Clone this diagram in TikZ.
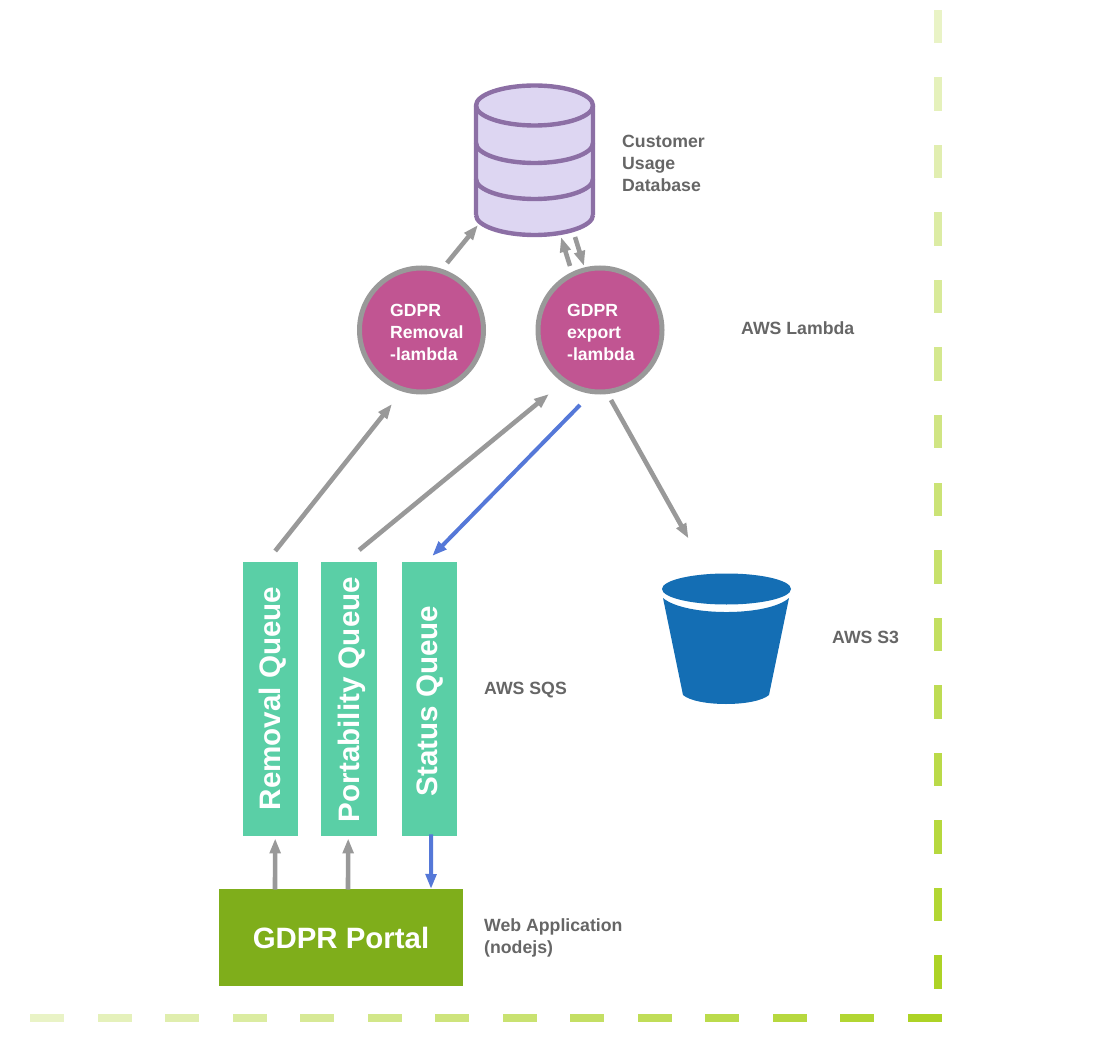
\documentclass[tikz,border=0pt]{standalone}
\usepackage{fontspec}
\setmainfont{Liberation Sans}
\usetikzlibrary{arrows.meta}
\definecolor{txtgray}{HTML}{666666}
\definecolor{linegray}{HTML}{999999}
\definecolor{blueline}{HTML}{5578D8}
\definecolor{lam}{HTML}{C15592}
\definecolor{queue}{HTML}{5ACFA6}
\definecolor{portal}{HTML}{7FAE1B}
\definecolor{bucket}{HTML}{146EB4}
\definecolor{dbfill}{HTML}{DDD6F2}
\definecolor{dbline}{HTML}{8C6FA5}
\definecolor{dashpale}{HTML}{E9F3C6}
\definecolor{dashlime}{HTML}{ADD326}
\tikzset{
  x=1pt,y=-1pt,
  garrow/.style={draw=linegray,line width=4.6pt,-{Triangle[length=15pt,width=10.5pt]}},
  barrow/.style={draw=blueline,line width=4pt,-{Triangle[length=15pt,width=10.5pt]}},
  lambdanode/.style={circle,draw=linegray,fill=lam,line width=5pt,minimum size=124pt,inner sep=0pt},
  lambdatext/.style={anchor=west,align=left,text=white,font=\bfseries\fontsize{17.6}{22.4}\selectfont,inner sep=0pt},
  queuenode/.style={fill=queue,minimum height=274pt,inner sep=0pt,anchor=north west},
  queuetext/.style={text=white,rotate=90,font=\bfseries\fontsize{29.6}{32}\selectfont,inner sep=0pt},
  labeltext/.style={anchor=west,align=left,text=txtgray,font=\bfseries\fontsize{17.7}{22.4}\selectfont,inner sep=0pt},
  dbstroke/.style={draw=dbline,line width=4.4pt},
}
\newcommand{\dbcurve}[1]{(476,#1) .. controls (476,#1+11) and (502.7,#1+20) .. (534.5,#1+20) .. controls (566.3,#1+20) and (593,#1+11) .. (593,#1)}
\begin{document}
\begin{tikzpicture}
\useasboundingbox (0,0) rectangle (1098,1064);
% dashed frame
\foreach \i in {0,...,14}{
  \pgfmathtruncatemacro{\p}{\i*100/14}
  \fill[dashlime!\p!dashpale] (934,{10+67.5*\i}) rectangle (942,{10+67.5*\i+33.5});
}
\foreach \i in {0,...,13}{
  \pgfmathtruncatemacro{\p}{\i*100/13}
  \fill[dashlime!\p!dashpale] ({30+67.5*\i},1014) rectangle ({30+67.5*\i+34},1022);
}
% database
\node[inner sep=0pt,minimum width=119pt,minimum height=150pt] (db) at (534.5,160) {};
\fill[dbfill] (476,105.5) .. controls (476,94.5) and (502.7,85.5) .. (534.5,85.5)
  .. controls (566.3,85.5) and (593,94.5) .. (593,105.5) -- (593,215)
  .. controls (593,226) and (566.3,235) .. (534.5,235)
  .. controls (502.7,235) and (476,226) .. (476,215) -- cycle;
\draw[dbstroke,line join=round] (476,215) -- (476,105.5) .. controls (476,94.5) and (502.7,85.5) .. (534.5,85.5)
  .. controls (566.3,85.5) and (593,94.5) .. (593,105.5) -- (593,215);
\draw[dbstroke] \dbcurve{105.5};
\draw[dbstroke] \dbcurve{143};
\draw[dbstroke] \dbcurve{179};
\draw[dbstroke] \dbcurve{215};
\node[labeltext] (dblabel) at (622,163.5) {Customer\\Usage\\Database};
% lambdas
\node[lambdanode] (rl) at (421.5,330) {};
\node[lambdanode] (el) at (600,330) {};
\node[lambdatext] (rltext) at (390,332.5) {GDPR\\Removal\\-lambda};
\node[lambdatext] (eltext) at (567,332.5) {GDPR\\export\\-lambda};
\node[labeltext] (awslambda) at (741,328.5) {AWS Lambda};
% queues
\node[queuenode,minimum width=55pt] (rq) at (243,562) {};
\node[queuenode,minimum width=56pt] (pq) at (321,562) {};
\node[queuenode,minimum width=55pt] (sq) at (402,562) {};
\node[queuetext] (rqtext) at (273,698.5) {Removal Queue};
\node[queuetext] (pqtext) at (351.5,699.5) {Portability Queue};
\node[queuetext] (sqtext) at (430,701) {Status Queue};
\node[labeltext] (sqs) at (484,690) {AWS SQS};
% bucket
\node[inner sep=0pt,minimum width=129pt,minimum height=131pt] (s3) at (726.5,638.5) {};
\fill[bucket] (726.5,589) ellipse[x radius=64.5,y radius=15.5];
\fill[bucket] (663,598) .. controls (685,616.7) and (768,616.7) .. (789,598)
  -- (769,695) .. controls (755,707) and (697,707) .. (683,695) -- cycle;
\node[labeltext] (s3label) at (832,637.5) {AWS S3};
% portal
\node[fill=portal,minimum width=244pt,minimum height=97pt,inner sep=0pt,text=white,
  font=\bfseries\fontsize{29.4}{34}\selectfont] (gp) at (341,937.5) {GDPR Portal};
\node[labeltext] (web) at (484,938) {Web Application\\(nodejs)};
% connectors
\draw[garrow] ([shift={(4.5,-11)}]rq.north) -- ([shift={(-29.5,74)}]rl.center);
\draw[garrow] ([shift={(10,-12)}]pq.north) -- ([shift={(-51,64)}]el.center);
\draw[barrow] ([shift={(-20,75)}]el.center) -- ([shift={(2.5,-6)}]sq.north);
\draw[garrow] ([shift={(11,70)}]el.center) -- ([shift={(-38,-100)}]s3.center);
\draw[garrow] ([shift={(25.5,-67)}]rl.center) -- ([shift={(-56.5,65)}]db.center);
\draw[garrow] ([shift={(-30,-64)}]el.center) -- ([shift={(26.5,77)}]db.center);
\draw[garrow] ([shift={(40.5,77)}]db.center) -- ([shift={(-16,-64)}]el.center);
\draw[garrow] ([shift={(-66,-48)}]gp.center) -- ([shift={(4.5,2)}]rq.south);
\draw[garrow] ([shift={(7,-48)}]gp.center) -- ([shift={(-1,2)}]pq.south);
\draw[barrow] ([shift={(1.5,-2)}]sq.south) -- ([shift={(90,-48.5)}]gp.center);
\end{tikzpicture}
\end{document}
